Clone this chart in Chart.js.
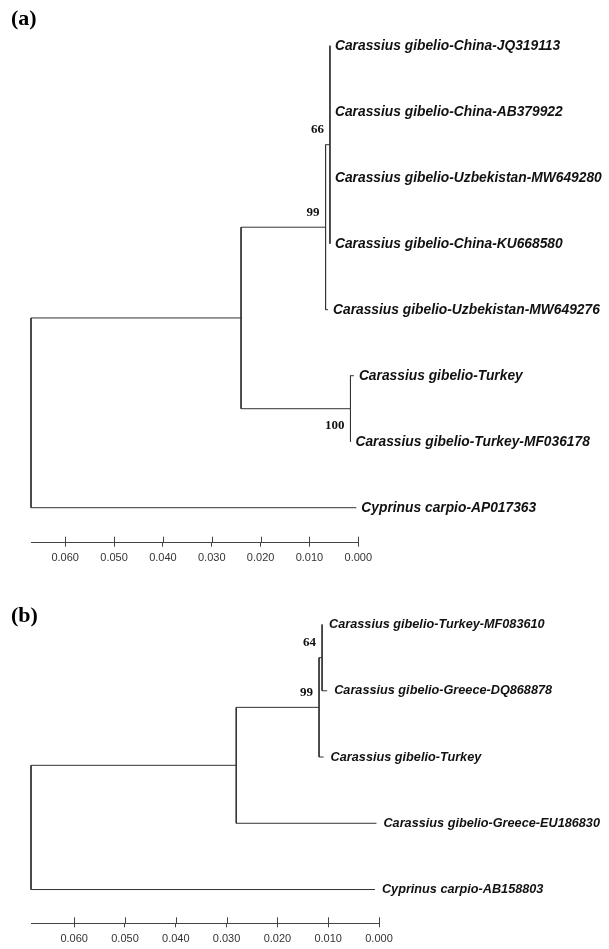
<!DOCTYPE html>
<html>
<head>
<meta charset="utf-8">
<script src="https://cdn.jsdelivr.net/npm/chart.js@4.4.0/dist/chart.umd.min.js"></script>
<style>
  html, body { margin: 0; padding: 0; background: #fff; }
  canvas { display: block; }
</style>
</head>
<body>
<canvas id="treeA" width="609" height="580"></canvas>
<canvas id="treeB" width="609" height="369"></canvas>
<script>
// panel (a) - taxa top to bottom, tip positions on the distance axis
const taxaA = [
    'Carassius gibelio-China-JQ319113',
    'Carassius gibelio-China-AB379922',
    'Carassius gibelio-Uzbekistan-MW649280',
    'Carassius gibelio-China-KU668580',
    'Carassius gibelio-Uzbekistan-MW649276',
    'Carassius gibelio-Turkey',
    'Carassius gibelio-Turkey-MF036178',
    'Cyprinus carpio-AP017363'
];
const tipDistA = [0.0058, 0.0058, 0.0058, 0.0058, 0.0062, 0.0009, 0.0016, 0.0004];
const tipParentA = ['n66', 'n66', 'n66', 'n66', 'n99', 'n100', 'n100', 'root'];
const nodeIdsA = ['root', 'n1', 'n99', 'n66', 'n100'];
const nodeDistA = [0.067, 0.024, 0.0067, 0.0058, 0.0016];
const nodeParentA = [null, 'root', 'n1', 'n99', 'n1'];
const bootstrapA = [null, null, 99, 66, 100];
const bootPlaceA = [null, null, 'above', 'above', 'below'];

// panel (b)
const taxaB = [
    'Carassius gibelio-Turkey-MF083610',
    'Carassius gibelio-Greece-DQ868878',
    'Carassius gibelio-Turkey',
    'Carassius gibelio-Greece-EU186830',
    'Cyprinus carpio-AB158803'
];
const tipDistB = [0.0112, 0.0102, 0.0109, 0.0005, 0.0008];
const tipParentB = ['n64', 'n64', 'n99', 'n2', 'root'];
const nodeIdsB = ['root', 'n2', 'n99', 'n64'];
const nodeDistB = [0.0685, 0.0281, 0.0118, 0.0112];
const nodeParentB = [null, 'root', 'n2', 'n99'];
const bootstrapB = [null, null, 99, 64];
const bootPlaceB = [null, null, 'above', 'above'];

const axisStep = 0.01;

function buildTree(taxa, tipDist, tipParent, nodeIds, nodeDist, nodeParent) {
    const nodes = {};
    nodeIds.forEach((id, i) => {
        nodes[id] = { id: id, x: nodeDist[i], parent: nodeParent[i], kids: [] };
    });
    const tips = taxa.map((name, i) => ({ name: name, x: tipDist[i], y: i, parent: tipParent[i] }));
    tips.forEach(t => nodes[t.parent].kids.push(t));
    nodeIds.forEach(id => {
        const p = nodes[id].parent;
        if (p) nodes[p].kids.push(nodes[id]);
    });
    // node sits halfway between its outermost children
    const yOf = n => {
        if (n.y === undefined) {
            const ys = n.kids.map(yOf);
            n.y = (Math.min(...ys) + Math.max(...ys)) / 2;
        }
        return n.y;
    };
    nodeIds.forEach(id => yOf(nodes[id]));

    const segs = [];
    nodeIds.forEach(id => {
        const n = nodes[id];
        const ys = n.kids.map(k => k.y);
        segs.push([{ x: n.x, y: Math.min(...ys) }, { x: n.x, y: Math.max(...ys) }]);
    });
    tips.concat(nodeIds.map(id => nodes[id])).forEach(n => {
        if (!n.parent) return;
        const p = nodes[n.parent];
        segs.push([{ x: p.x, y: n.y }, { x: n.x, y: n.y }]);
    });
    return { nodes: nodes, tips: tips, segs: segs };
}

const treeText = {
    id: 'treeText',
    afterDraw(chart, args, opts) {
        const ctx = chart.ctx;
        const xs = chart.scales.x;
        const ys = chart.scales.y;
        const area = chart.chartArea;
        ctx.save();

        // tick marks also poke up above the scale bar
        ctx.strokeStyle = '#444';
        ctx.lineWidth = 1;
        ctx.beginPath();
        xs.ticks.forEach(t => {
            const px = Math.round(xs.getPixelForValue(t.value)) + 0.5;
            ctx.moveTo(px, area.bottom);
            ctx.lineTo(px, area.bottom - 6);
        });
        ctx.stroke();

        ctx.fillStyle = '#111';
        ctx.textBaseline = 'middle';
        ctx.textAlign = 'left';
        ctx.font = opts.leafFont;
        opts.tree.tips.forEach(t => {
            ctx.fillText(t.name, xs.getPixelForValue(t.x) + opts.gap, ys.getPixelForValue(t.y));
        });

        ctx.font = 'bold 13px "Liberation Serif", "Times New Roman", serif';
        ctx.textAlign = 'right';
        opts.nodeIds.forEach((id, i) => {
            if (opts.boot[i] == null) return;
            const n = opts.tree.nodes[id];
            const dy = opts.place[i] === 'below' ? 17 : -15;
            ctx.fillText(String(opts.boot[i]), xs.getPixelForValue(n.x) - 6, ys.getPixelForValue(n.y) + dy);
        });

        ctx.textAlign = 'left';
        ctx.font = 'bold 22px "Liberation Serif", "Times New Roman", serif';
        ctx.fillStyle = '#000';
        ctx.fillText(opts.panel, 11, opts.panelY);
        ctx.restore();
    }
};

function makeTree(canvasId, tree, xMax, yMax, padding, axisHeight, textOpts) {
    return new Chart(document.getElementById(canvasId), {
        type: 'scatter',
        data: {
            datasets: tree.segs.map(s => ({
                data: s,
                showLine: true,
                borderColor: '#333',
                borderWidth: 1,
                pointRadius: 0,
                pointHoverRadius: 0,
                tension: 0,
                clip: false
            }))
        },
        options: {
            responsive: false,
            animation: false,
            events: [],
            layout: { padding: padding },
            plugins: {
                legend: { display: false },
                tooltip: { enabled: false },
                treeText: textOpts
            },
            scales: {
                x: {
                    type: 'linear',
                    reverse: true,
                    min: 0,
                    max: xMax,
                    ticks: {
                        stepSize: axisStep,
                        includeBounds: false,
                        autoSkip: false,
                        maxRotation: 0,
                        padding: 5,
                        color: '#333',
                        font: { family: '"Liberation Sans", Arial, sans-serif', size: 11 },
                        callback: v => v.toFixed(3)
                    },
                    grid: { drawOnChartArea: false, tickLength: 4, color: '#444' },
                    border: { color: '#444', width: 1 },
                    afterFit: s => { s.height = axisHeight; }
                },
                y: {
                    type: 'linear',
                    display: false,
                    reverse: true,
                    min: -0.6,
                    max: yMax
                }
            }
        },
        plugins: [treeText]
    });
}

const treeA = buildTree(taxaA, tipDistA, tipParentA, nodeIdsA, nodeDistA, nodeParentA);
const treeB = buildTree(taxaB, tipDistB, tipParentB, nodeIdsB, nodeDistB, nodeParentB);

makeTree('treeA', treeA, 0.067, 7.53, { left: 31, right: 250.7, top: 6.1, bottom: 0 }, 37.3, {
    tree: treeA, nodeIds: nodeIdsA, boot: bootstrapA, place: bootPlaceA,
    leafFont: 'italic bold 13.8px "Liberation Sans", Arial, sans-serif', gap: 5,
    panel: '(a)', panelY: 19
});

makeTree('treeB', treeB, 0.0685, 4.51, { left: 31, right: 230, top: 4.8, bottom: 0 }, 25.7, {
    tree: treeB, nodeIds: nodeIdsB, boot: bootstrapB, place: bootPlaceB,
    leafFont: 'italic bold 12.7px "Liberation Sans", Arial, sans-serif', gap: 7,
    panel: '(b)', panelY: 36
});
</script>
</body>
</html>
